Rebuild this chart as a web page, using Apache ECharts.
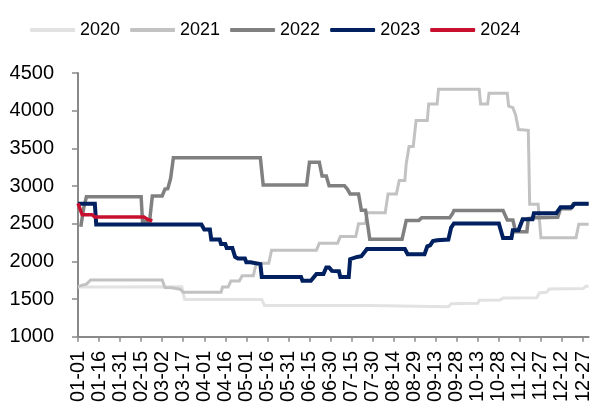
<!DOCTYPE html>
<html>
<head>
<meta charset="utf-8">
<script src="https://cdn.jsdelivr.net/npm/echarts@6/dist/echarts.min.js"></script>
<style>
html,body{margin:0;padding:0;background:#fff;}
#chart{width:593px;height:405px;}
</style>
</head>
<body>
<div id="chart"></div>
<script>
// Month lengths used to build the MM-DD category labels (365 days)
var monthDays = [31,28,31,30,31,30,31,31,30,31,30,31];
var categories = [];
for (var m = 0; m < 12; m++) {
  for (var d = 1; d <= monthDays[m]; d++) {
    categories.push((m < 9 ? '0' : '') + (m + 1) + '-' + (d < 10 ? '0' : '') + d);
  }
}

var seriesNames = ['2020', '2021', '2022', '2023', '2024'];
var seriesColors = ['#e2e2e2', '#c2c2c2', '#808080', '#002060', '#c8102e'];
var seriesWidths = [3, 3, 3.5, 4, 3.5];

// Each series: day index (0 = 01-01) of every corner, and value at that corner
var days2020 = [0, 74, 76, 131, 133, 207, 208, 264, 266, 285, 286, 301, 303, 327, 329, 334, 336, 360, 362, 364];
var vals2020 = [1660, 1665, 1497, 1497, 1415, 1415, 1400, 1400, 1440, 1445, 1485, 1490, 1515, 1520, 1585, 1590, 1635, 1640, 1670, 1670];

var days2021 = [0, 2, 6, 9, 60, 62, 67, 68, 73, 75, 102, 103, 107, 109, 115, 117, 125, 127, 136, 138, 170, 172, 185, 187, 198, 200, 205, 206, 219, 221, 227, 229, 233, 234, 236, 239, 241, 249, 250, 256, 257, 286, 287, 292, 293, 306, 307, 310, 312, 314, 321, 322, 328, 330, 355, 357, 364];
var vals2021 = [1665, 1680, 1700, 1755, 1755, 1655, 1650, 1635, 1630, 1590, 1590, 1660, 1660, 1740, 1740, 1810, 1810, 1975, 1975, 2150, 2150, 2240, 2240, 2330, 2330, 2500, 2505, 2645, 2645, 2895, 2895, 3075, 3075, 3300, 3525, 3525, 3870, 3870, 4090, 4090, 4283, 4283, 4090, 4090, 4230, 4230, 4060, 4040, 3940, 3750, 3740, 2760, 2760, 2315, 2315, 2495, 2495];

var days2022 = [2, 4, 6, 45, 46, 51, 53, 60, 62, 64, 66, 68, 130, 132, 163, 165, 172, 174, 177, 179, 190, 192, 194, 200, 202, 205, 208, 231, 234, 243, 245, 265, 267, 268, 303, 306, 310, 312, 320, 321, 326, 342, 344, 351, 353, 364];
var vals2022 = [2460, 2700, 2860, 2860, 2530, 2530, 2870, 2870, 2960, 2965, 3100, 3375, 3375, 3015, 3015, 3315, 3315, 3135, 3135, 3005, 3005, 2960, 2895, 2895, 2680, 2680, 2295, 2295, 2545, 2545, 2580, 2580, 2635, 2675, 2675, 2550, 2550, 2395, 2395, 2570, 2580, 2585, 2700, 2700, 2765, 2765];

var days2023 = [0, 12, 13, 88, 90, 94, 95, 101, 102, 105, 106, 110, 112, 114, 119, 120, 123, 124, 130, 131, 159, 160, 166, 170, 175, 177, 179, 181, 186, 187, 193, 194, 199, 202, 206, 233, 235, 247, 249, 251, 253, 256, 264, 266, 268, 300, 303, 309, 310, 314, 317, 324, 325, 341, 344, 352, 354, 364];
var vals2023 = [2765, 2765, 2490, 2490, 2425, 2425, 2290, 2290, 2230, 2230, 2180, 2180, 2060, 2040, 2040, 1990, 1990, 1965, 1965, 1795, 1795, 1745, 1745, 1835, 1835, 1920, 1920, 1875, 1870, 1795, 1795, 2030, 2060, 2070, 2165, 2165, 2095, 2095, 2200, 2215, 2270, 2280, 2290, 2450, 2505, 2505, 2310, 2310, 2415, 2415, 2560, 2560, 2640, 2640, 2720, 2720, 2765, 2765];

var days2024 = [0, 3, 10, 12, 47, 50, 53];
var vals2024 = [2770, 2620, 2620, 2590, 2590, 2555, 2540];

var allDays = [days2020, days2021, days2022, days2023, days2024];
var allVals = [vals2020, vals2021, vals2022, vals2023, vals2024];

var yMin = 1000, yMax = 4500, yStep = 500;

function pairs(ds, vs) {
  var out = [];
  for (var i = 0; i < ds.length; i++) out.push([ds[i], vs[i]]);
  return out;
}

var series = seriesNames.map(function (name, i) {
  return {
    name: name,
    type: 'line',
    data: pairs(allDays[i], allVals[i]),
    symbol: 'none',
    showSymbol: false,
    color: seriesColors[i],
    lineStyle: { width: seriesWidths[i], color: seriesColors[i], join: 'miter' },
    z: 2 + i
  };
});

var font = 'Liberation Sans, Arial, sans-serif';
var chart = echarts.init(document.getElementById('chart'), null, { renderer: 'canvas' });
chart.setOption({
  animation: false,
  backgroundColor: '#ffffff',
  legend: {
    data: seriesNames,
    left: 25,
    top: 16,
    icon: 'roundRect',
    itemWidth: 45,
    itemHeight: 4,
    itemGap: 10,
    textStyle: { fontSize: 18, color: '#000', fontFamily: font }
  },
  grid: { left: 78, right: 0, top: 73, bottom: 63, containLabel: false },
  xAxis: {
    type: 'category',
    data: categories,
    boundaryGap: false,
    axisLine: { lineStyle: { color: '#898989', width: 2 } },
    axisTick: { interval: 14, length: 5, lineStyle: { color: '#898989', width: 1.5 } },
    axisLabel: { interval: 14, rotate: 90, fontSize: 20, margin: 14, color: '#000', fontFamily: font },
    splitLine: { show: false }
  },
  yAxis: {
    type: 'value',
    min: yMin,
    max: yMax,
    interval: yStep,
    axisLine: { show: true, lineStyle: { color: '#898989', width: 2 } },
    axisTick: { show: true, length: 6, lineStyle: { color: '#898989', width: 1.5 } },
    axisLabel: { fontSize: 20, margin: 24, color: '#000', fontFamily: font, formatter: function (v) { return String(v); } },
    splitLine: { show: false }
  },
  series: series
});
</script>
</body>
</html>
